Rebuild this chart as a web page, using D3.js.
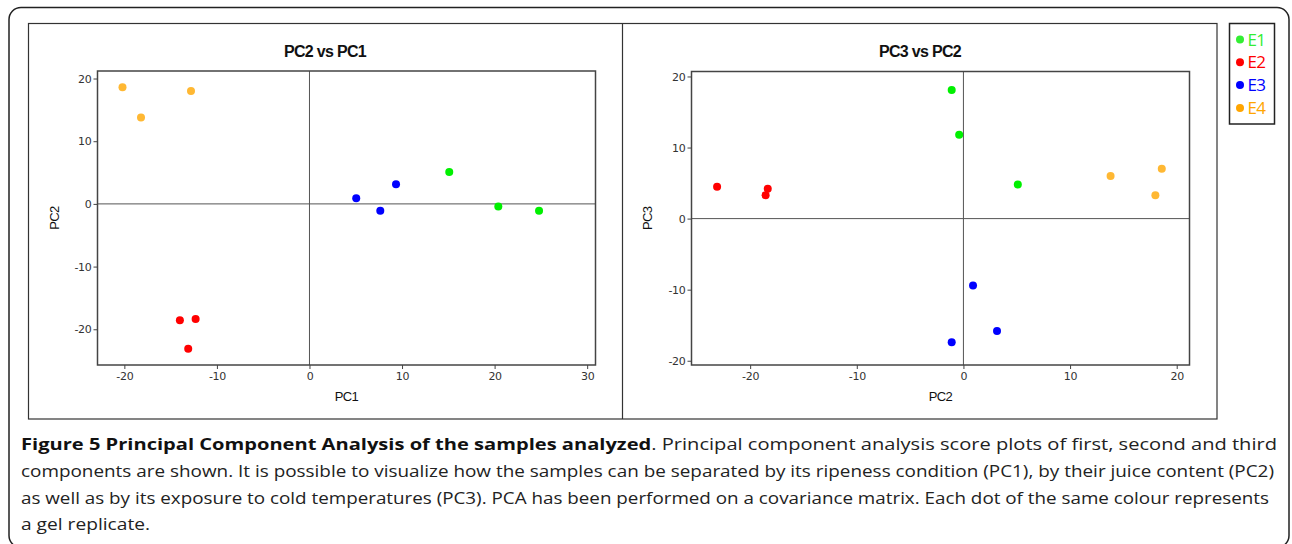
<!DOCTYPE html>
<html>
<head>
<meta charset="utf-8">
<script src="https://cdn.jsdelivr.net/npm/d3@7"></script>
<style>
  html, body { margin: 0; padding: 0; background: #fff; }
  svg { display: block; }
</style>
</head>
<body>
<svg id="fig"></svg>
<script>
// Données (scores PCA, 3 répliques par groupe)
const groups = ["E1", "E2", "E3", "E4"];
const sampleGroup = ["E1", "E1", "E1", "E2", "E2", "E2", "E3", "E3", "E3", "E4", "E4", "E4"];
const pc1 = [15.1, 20.4, 24.8, -14.0, -12.3, -13.1, 5.05, 7.65, 9.35, -20.2, -18.2, -12.8];
const pc2 = [5.1, -0.4, -1.1, -18.55, -18.35, -23.1, 0.9, -1.1, 3.15, 18.6, 13.8, 18.0];
const pc3 = [4.8, 11.8, 18.1, 3.3, 4.2, 4.5, -9.4, -17.4, -15.8, 7.0, 6.0, 3.3];

const ticksLeftX = [-20, -10, 0, 10, 20, 30];
const ticksLeftY = [-20, -10, 0, 10, 20];
const ticksRightX = [-20, -10, 0, 10, 20];
const ticksRightY = [-20, -10, 0, 10, 20];

const captionBold = "Figure 5 Principal Component Analysis of the samples analyzed";
const captionLines = [
  ". Principal component analysis score plots of first, second and third",
  "components are shown. It is possible to visualize how the samples can be separated by its ripeness condition (PC1), by their juice content (PC2)",
  "as well as by its exposure to cold temperatures (PC3). PCA has been performed on a covariance matrix. Each dot of the same colour represents",
  "a gel replicate."
];

const width = 1292, height = 544;
const svg = d3.select("#fig").attr("width", width).attr("height", height);

const color = d3.scaleOrdinal()
  .domain(groups)
  .range(["#00f000", "#ff0000", "#0000ff", "#ffb833"]);
const legendColor = d3.scaleOrdinal()
  .domain(groups)
  .range(["#33ee33", "#ff0000", "#0000ff", "#ffa500"]);

const samples = sampleGroup.map((g, i) => ({ g, pc1: pc1[i], pc2: pc2[i], pc3: pc3[i] }));

// Cadre extérieur arrondi
svg.append("rect")
  .attr("x", 9).attr("y", 7.5)
  .attr("width", 1280).attr("height", 540)
  .attr("rx", 12)
  .attr("fill", "none").attr("stroke", "#222").attr("stroke-width", 1.5);

// Cadre de la figure et séparateur
svg.append("rect")
  .attr("x", 28.5).attr("y", 23.5)
  .attr("width", 1188.5).attr("height", 395.5)
  .attr("fill", "none").attr("stroke", "#333").attr("stroke-width", 1.2);
svg.append("line")
  .attr("x1", 622.5).attr("x2", 622.5).attr("y1", 23.5).attr("y2", 419)
  .attr("stroke", "#333").attr("stroke-width", 1.2);

function drawPanel(opts) {
  const x = d3.scaleLinear().domain(opts.xDomain).range(opts.xRange);
  const y = d3.scaleLinear().domain(opts.yDomain).range(opts.yRange);
  const g = svg.append("g");

  // Titre
  g.append("text")
    .attr("x", opts.titleX).attr("y", 57)
    .attr("text-anchor", "middle")
    .attr("font-family", "Liberation Sans, Arial, sans-serif")
    .attr("font-weight", "bold")
    .attr("font-size", 16)
    .attr("letter-spacing", -0.7)
    .attr("fill", "#111")
    .text(opts.title);

  // Axes
  const ax = g.append("g")
    .attr("transform", `translate(0,${opts.yRange[0]})`)
    .call(d3.axisBottom(x).tickValues(opts.xTicks).tickSize(4).tickPadding(3).tickFormat(d => String(d)));
  const ay = g.append("g")
    .attr("transform", `translate(${opts.xRange[0]},0)`)
    .call(d3.axisLeft(y).tickValues(opts.yTicks).tickSize(4).tickPadding(2).tickFormat(d => String(d)));
  [ax, ay].forEach(a => {
    a.select(".domain").remove();
    a.selectAll("line").attr("stroke", "#444");
    a.selectAll("text")
      .attr("font-family", "DejaVu Sans, Verdana, sans-serif")
      .attr("font-size", 11)
      .attr("letter-spacing", -0.3)
      .attr("fill", "#333");
  });

  // Lignes de référence à zéro
  g.append("line")
    .attr("x1", x(0)).attr("x2", x(0))
    .attr("y1", opts.yRange[1]).attr("y2", opts.yRange[0])
    .attr("stroke", "#555").attr("stroke-width", 1);
  g.append("line")
    .attr("x1", opts.xRange[0]).attr("x2", opts.xRange[1])
    .attr("y1", y(0)).attr("y2", y(0))
    .attr("stroke", "#555").attr("stroke-width", 1);

  // Bordure de la zone de tracé
  g.append("rect")
    .attr("x", opts.xRange[0]).attr("y", opts.yRange[1])
    .attr("width", opts.xRange[1] - opts.xRange[0])
    .attr("height", opts.yRange[0] - opts.yRange[1])
    .attr("fill", "none").attr("stroke", "#444").attr("stroke-width", 1.5);

  // Points
  g.selectAll("circle.pt")
    .data(samples)
    .join("circle")
    .attr("class", "pt")
    .attr("cx", d => x(d[opts.xKey]))
    .attr("cy", d => y(d[opts.yKey]))
    .attr("r", 4)
    .attr("fill", d => color(d.g));

  // Titres des axes
  g.append("text")
    .attr("x", (opts.xRange[0] + opts.xRange[1]) / 2).attr("y", 401)
    .attr("text-anchor", "middle")
    .attr("font-family", "Liberation Sans, Arial, sans-serif")
    .attr("font-size", 13)
    .attr("letter-spacing", -0.6)
    .attr("fill", "#111")
    .text(opts.xLabel);
  g.append("text")
    .attr("transform", `translate(${opts.yLabelX},${(opts.yRange[0] + opts.yRange[1]) / 2}) rotate(-90)`)
    .attr("text-anchor", "middle")
    .attr("font-family", "Liberation Sans, Arial, sans-serif")
    .attr("font-size", 13)
    .attr("letter-spacing", -0.6)
    .attr("fill", "#111")
    .text(opts.yLabel);
}

drawPanel({
  title: "PC2 vs PC1", titleX: 325,
  xKey: "pc1", yKey: "pc2", xLabel: "PC1", yLabel: "PC2", yLabelX: 59,
  xDomain: [-22.9, 30.9], xRange: [97.5, 595.5],
  yDomain: [-25.7, 21.2], yRange: [365, 71],
  xTicks: ticksLeftX, yTicks: ticksLeftY
});

drawPanel({
  title: "PC3 vs PC2", titleX: 920,
  xKey: "pc2", yKey: "pc3", xLabel: "PC2", yLabel: "PC3", yLabelX: 652,
  xDomain: [-25.5, 21.2], xRange: [691.5, 1189.5],
  yDomain: [-20.6, 20.7], yRange: [365, 71.5],
  xTicks: ticksRightX, yTicks: ticksRightY
});

// Légende
const legend = svg.append("g");
legend.append("rect")
  .attr("x", 1229.5).attr("y", 23.5)
  .attr("width", 45).attr("height", 100.5)
  .attr("fill", "#fff").attr("stroke", "#222").attr("stroke-width", 1.5);
const items = legend.selectAll("g.item")
  .data(groups)
  .join("g")
  .attr("class", "item")
  .attr("transform", (d, i) => `translate(1240,${39.5 + i * 22.8})`);
items.append("circle").attr("r", 4).attr("fill", d => legendColor(d));
items.append("text")
  .attr("x", 7.5).attr("y", 6)
  .attr("font-family", "Open Sans, sans-serif")
  .attr("font-size", 17)
  .attr("letter-spacing", -0.8)
  .attr("fill", d => legendColor(d))
  .text(d => d);

// Légende de la figure (texte)
const capFont = "Open Sans, sans-serif";
const capX = 21;
const capBase = [450, 477, 503.5, 530];
const capEnd = [1277, 1274, 1269, 150];
captionLines.forEach((line, i) => {
  const t = svg.append("text")
    .attr("x", capX).attr("y", capBase[i])
    .attr("font-family", capFont)
    .attr("font-size", 15.5)
    .attr("fill", "#222");
  if (i === 0) {
    t.append("tspan").attr("font-weight", "bold").attr("fill", "#111").text(captionBold);
  }
  t.append("tspan").text(line);
  t.attr("textLength", capEnd[i] - capX).attr("lengthAdjust", "spacingAndGlyphs");
});
</script>
</body>
</html>
